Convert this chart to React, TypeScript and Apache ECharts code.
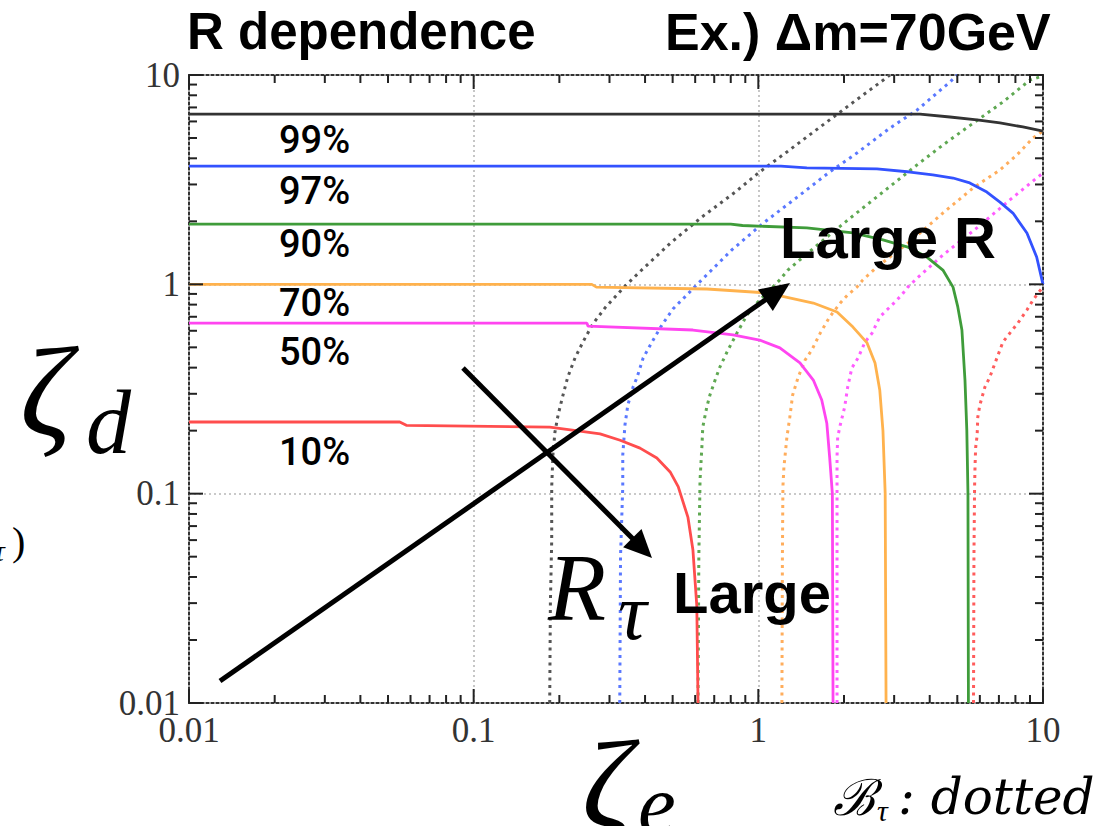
import React, { useEffect, useRef } from "react";
import * as echarts from "echarts";

// ---- axis range and tick values (log decades, minor 2..9) ----
const axisMin = 0.01;
const axisMax = 10;
const majorTicks = [0.01, 0.1, 1, 10];
const minorTicks = [
  0.02, 0.03, 0.04, 0.05, 0.06, 0.07, 0.08, 0.09,
  0.2, 0.3, 0.4, 0.5, 0.6, 0.7, 0.8, 0.9,
  2, 3, 4, 5, 6, 7, 8, 9,
];

// ---- solid curves: [zeta_e, zeta_d] ----
const solid99 = [[0.01, 6.5], [3.7, 6.5], [4.71, 6.3], [5.86, 6.1], [7.06, 5.9], [8.5, 5.65], [10, 5.4]];
const solid97 = [[0.01, 3.67], [1.2, 3.67], [1.48, 3.6], [2.61, 3.56], [3.41, 3.44], [4.1, 3.33], [4.83, 3.22], [5.53, 3.05], [6.35, 2.76], [7.06, 2.47], [7.84, 2.19], [8.78, 1.76], [9.5, 1.35], [10, 1.0]];
const solid90 = [[0.01, 1.94], [0.8, 1.94], [0.88, 1.91], [1.48, 1.86], [2.15, 1.76], [2.74, 1.63], [3.33, 1.51], [3.91, 1.35], [4.45, 1.17], [4.83, 0.97], [5.02, 0.78], [5.19, 0.605], [5.32, 0.349], [5.4, 0.2], [5.45, 0.1], [5.47, 0.01]];
const solid70 = [[0.01, 1.0], [0.26, 1.0], [0.27, 0.97], [0.66, 0.95], [1.07, 0.91], [1.56, 0.814], [1.89, 0.738], [2.15, 0.625], [2.41, 0.525], [2.57, 0.421], [2.67, 0.313], [2.74, 0.2], [2.79, 0.1], [2.81, 0.01]];
const solid50 = [[0.01, 0.653], [0.25, 0.653], [0.252, 0.632], [0.589, 0.605], [0.815, 0.573], [1.01, 0.542], [1.19, 0.497], [1.4, 0.421], [1.56, 0.349], [1.67, 0.28], [1.74, 0.217], [1.78, 0.15], [1.82, 0.1], [1.83, 0.01]];
const solid10 = [[0.01, 0.22], [0.055, 0.22], [0.058, 0.212], [0.185, 0.208], [0.236, 0.199], [0.278, 0.193], [0.327, 0.18], [0.384, 0.165], [0.44, 0.148], [0.49, 0.127], [0.523, 0.108], [0.566, 0.077], [0.589, 0.054], [0.608, 0.029], [0.614, 0.01]];

// ---- dotted curves (B_tau) ----
const dottedBlack = [[0.185, 0.01], [0.186, 0.03], [0.188, 0.06], [0.188, 0.108], [0.19, 0.156], [0.193, 0.197], [0.198, 0.238], [0.206, 0.296], [0.214, 0.36], [0.227, 0.445], [0.242, 0.53], [0.262, 0.646], [0.289, 0.77], [0.321, 0.9], [0.34, 0.98], [0.384, 1.15], [0.49, 1.57], [0.634, 2.1], [0.83, 2.76], [1.01, 3.44], [1.26, 4.29], [1.65, 5.65], [2.18, 7.5], [2.72, 9.36], [2.9, 10]];
const dottedBlue = [[0.326, 0.01], [0.328, 0.05], [0.334, 0.108], [0.334, 0.153], [0.34, 0.213], [0.348, 0.265], [0.363, 0.323], [0.375, 0.36], [0.394, 0.445], [0.423, 0.53], [0.458, 0.638], [0.501, 0.762], [0.561, 0.89], [0.61, 1.0], [0.807, 1.46], [1.04, 1.96], [1.37, 2.61], [1.78, 3.44], [2.22, 4.24], [2.9, 5.58], [3.61, 6.8], [4.71, 9.26], [5.0, 10]];
const dottedGreen = [[0.614, 0.01], [0.618, 0.05], [0.624, 0.116], [0.634, 0.171], [0.638, 0.208], [0.659, 0.259], [0.676, 0.296], [0.705, 0.349], [0.733, 0.403], [0.782, 0.485], [0.841, 0.585], [0.912, 0.713], [0.989, 0.814], [1.07, 0.908], [1.19, 1.05], [1.27, 1.17], [1.61, 1.54], [2.1, 2.07], [2.74, 2.76], [3.61, 3.72], [4.45, 4.63], [5.45, 5.65], [7.23, 7.43], [9.0, 9.46], [10, 9.9]];
const dottedOrange = [[1.21, 0.01], [1.215, 0.05], [1.22, 0.108], [1.23, 0.134], [1.26, 0.186], [1.29, 0.232], [1.32, 0.296], [1.38, 0.36], [1.46, 0.435], [1.54, 0.485], [1.65, 0.585], [1.78, 0.698], [1.94, 0.814], [2.06, 0.89], [2.22, 0.97], [2.33, 1.05], [2.61, 1.21], [3.47, 1.63], [4.45, 2.19], [5.67, 2.88], [7.06, 3.52], [8.1, 4.15], [9.22, 5.0], [10, 5.4]];
const dottedMagenta = [[1.89, 0.01], [1.89, 0.05], [1.89, 0.15], [1.9, 0.186], [1.94, 0.213], [2.01, 0.259], [2.06, 0.323], [2.13, 0.398], [2.24, 0.445], [2.37, 0.53], [2.51, 0.585], [2.67, 0.698], [2.85, 0.762], [3.02, 0.823], [3.19, 0.89], [3.35, 0.97], [3.61, 1.07], [4.45, 1.38], [5.86, 1.86], [7.65, 2.53], [9.5, 3.22], [10, 3.4]];
const dottedRed = [[5.7, 0.01], [5.72, 0.05], [5.75, 0.108], [5.77, 0.134], [5.8, 0.166], [5.87, 0.19], [5.9, 0.232], [6.0, 0.265], [6.25, 0.323], [6.5, 0.36], [6.89, 0.445], [7.23, 0.53], [7.65, 0.585], [8.16, 0.653], [8.78, 0.754], [9.22, 0.84], [9.6, 0.908], [10, 0.97]];

const percentLabels = ["99%", "97%", "90%", "70%", "50%", "10%"];

export default function App() {
  const ref = useRef<HTMLDivElement>(null);
  useEffect(() => {
    if (!ref.current) return;
    const chart = echarts.init(ref.current, undefined, { renderer: "svg" });

    const solidSeries = [
      { data: solid99, color: "#333333" },
      { data: solid97, color: "#3352ff" },
      { data: solid90, color: "#3f9c3a" },
      { data: solid70, color: "#ffb24d" },
      { data: solid50, color: "#ff45f0" },
      { data: solid10, color: "#ff4d4d" },
    ].map((s) => ({
      type: "line" as const,
      data: s.data,
      showSymbol: false,
      symbol: "none",
      lineStyle: { color: s.color, width: 2.8 },
      z: 4,
      silent: true,
    }));

    const dottedSeries = [
      { data: dottedBlack, color: "#555555" },
      { data: dottedBlue, color: "#5a78ff" },
      { data: dottedGreen, color: "#5fa852" },
      { data: dottedOrange, color: "#ffad5c" },
      { data: dottedMagenta, color: "#ff5cff" },
      { data: dottedRed, color: "#ff5c5c" },
    ].map((s) => ({
      type: "line" as const,
      data: s.data,
      showSymbol: false,
      symbol: "none",
      lineStyle: { color: s.color, width: 3, type: [3, 4.5] },
      z: 3,
      silent: true,
    }));

    const pctY = [140, 191, 244, 303, 352, 452];
    const sans = "'Liberation Sans', Arial, sans-serif";
    const serif = "'Liberation Serif', 'Times New Roman', serif";

    const textEl = (text: string, x: number, y: number, font: any) => ({
      type: "text",
      x,
      y,
      z: 100,
      silent: true,
      style: { text, fill: "#000", align: "left", verticalAlign: "middle", ...font },
    });

    const gridLines = { show: true, lineStyle: { color: "#b8b8b8", width: 1.6, type: [2, 3] } };

    const baseGraphics: any[] = [
      textEl("R dependence", 187, 31, { fontFamily: sans, fontSize: 51, fontWeight: "bold" }),
      textEl("Ex.) \u0394m=70GeV", 665, 32, { fontFamily: sans, fontSize: 52, fontWeight: "bold" }),
      ...percentLabels.map((t, i) =>
        textEl(t, 279, pctY[i], { fontFamily: "Roboto, sans-serif", fontSize: 38, fontWeight: 500 })
      ),
      textEl("Large R", 780, 237, { fontFamily: sans, fontSize: 58, fontWeight: "bold" }),
      textEl("Large", 673, 592, { fontFamily: sans, fontSize: 58, fontWeight: "bold" }),
      // math labels
      textEl("\u03B6", 20, 392, { fontFamily: serif, fontSize: 128, fontStyle: "italic" }),
      textEl("d", 86, 422, { fontFamily: serif, fontSize: 90, fontStyle: "italic" }),
      textEl("\u03B6", 582, 785, { fontFamily: serif, fontSize: 125, fontStyle: "italic" }),
      textEl("e", 638, 804, { fontFamily: serif, fontSize: 85, fontStyle: "italic" }),
      textEl("R", 548, 588, { fontFamily: serif, fontSize: 95, fontStyle: "italic" }),
      textEl("\u03C4", 618, 612, { fontFamily: serif, fontSize: 80, fontStyle: "italic" }),
      textEl("\u212C", 833, 798, { fontFamily: serif, fontSize: 50, fontStyle: "italic" }),
      textEl("\u03C4", 877, 810, { fontFamily: serif, fontSize: 30, fontStyle: "italic" }),
      textEl(": dotted", 898, 797, { fontFamily: "'DejaVu Serif', serif", fontSize: 50, fontStyle: "italic" }),
      textEl(")", 12, 541, { fontFamily: serif, fontSize: 40 }),
      textEl("\u03C4", -6, 550, { fontFamily: serif, fontSize: 30, fontStyle: "italic" }),
      // arrows
      { type: "line", z: 100, silent: true, shape: { x1: 220, y1: 681, x2: 768, y2: 298 }, style: { stroke: "#000", lineWidth: 5 } },
      { type: "polygon", z: 100, silent: true, shape: { points: [[790, 283], [772.8, 310.9], [758.0, 289.5]] }, style: { fill: "#000" } },
      { type: "line", z: 100, silent: true, shape: { x1: 463, y1: 368, x2: 635, y2: 541 }, style: { stroke: "#000", lineWidth: 5 } },
      { type: "polygon", z: 100, silent: true, shape: { points: [[652, 558], [641.5, 528.9], [623.1, 547.3]] }, style: { fill: "#000" } },
    ];

    const option: any = {
      animation: false,
      backgroundColor: "#fff",
      grid: {
        left: 189, right: 67, top: 75, bottom: 123,
        show: true, borderColor: "#333", borderWidth: 2, backgroundColor: "#fff",
      },
      xAxis: {
        type: "log", logBase: 10, min: axisMin, max: axisMax,
        axisLine: { show: false }, axisTick: { show: false },
        axisLabel: { fontFamily: serif, fontSize: 35, color: "#333", margin: 10 },
        splitLine: gridLines,
      },
      yAxis: {
        type: "log", logBase: 10, min: axisMin, max: axisMax,
        axisLine: { show: false }, axisTick: { show: false },
        axisLabel: { fontFamily: serif, fontSize: 35, color: "#333", margin: 9 },
        splitLine: gridLines,
      },
      series: [...dottedSeries, ...solidSeries],
      graphic: baseGraphics,
    };

    chart.setOption(option);

    // Tick marks on all four sides, positioned through the axes' own scales
    try {
      const toPx = (xv: number, yv: number): number[] =>
        chart.convertToPixel({ gridIndex: 0 }, [xv, yv]) as any;
      const lo = toPx(axisMin, axisMin);
      const hi = toPx(axisMax, axisMax);
      const left = Number(lo[0]), bottom = Number(lo[1]);
      const right = Number(hi[0]), top = Number(hi[1]);
      const tickEls: any[] = [];
      const seg = (x1: number, y1: number, x2: number, y2: number) => ({
        type: "line",
        z: 100,
        silent: true,
        shape: { x1, y1, x2, y2 },
        style: { stroke: "#222", lineWidth: 2 },
      });
      const addTicks = (vals: number[], len: number) => {
        vals.forEach((v) => {
          const px = Number(toPx(v, 1)[0]);
          const py = Number(toPx(1, v)[1]);
          tickEls.push(seg(px, bottom, px, bottom - len));
          tickEls.push(seg(px, top, px, top + len));
          tickEls.push(seg(left, py, left + len, py));
          tickEls.push(seg(right, py, right - len, py));
        });
      };
      addTicks(majorTicks, 14);
      addTicks(minorTicks, 8);
      chart.setOption({ graphic: [...baseGraphics, ...tickEls] });
    } catch (e) {
      // keep the chart without tick marks if anything fails
    }

    return () => chart.dispose();
  }, []);

  return (
    <div
      ref={ref}
      style={{ position: "absolute", left: 0, top: 0, width: 1110, height: 826, background: "#fff" }}
    />
  );
}
